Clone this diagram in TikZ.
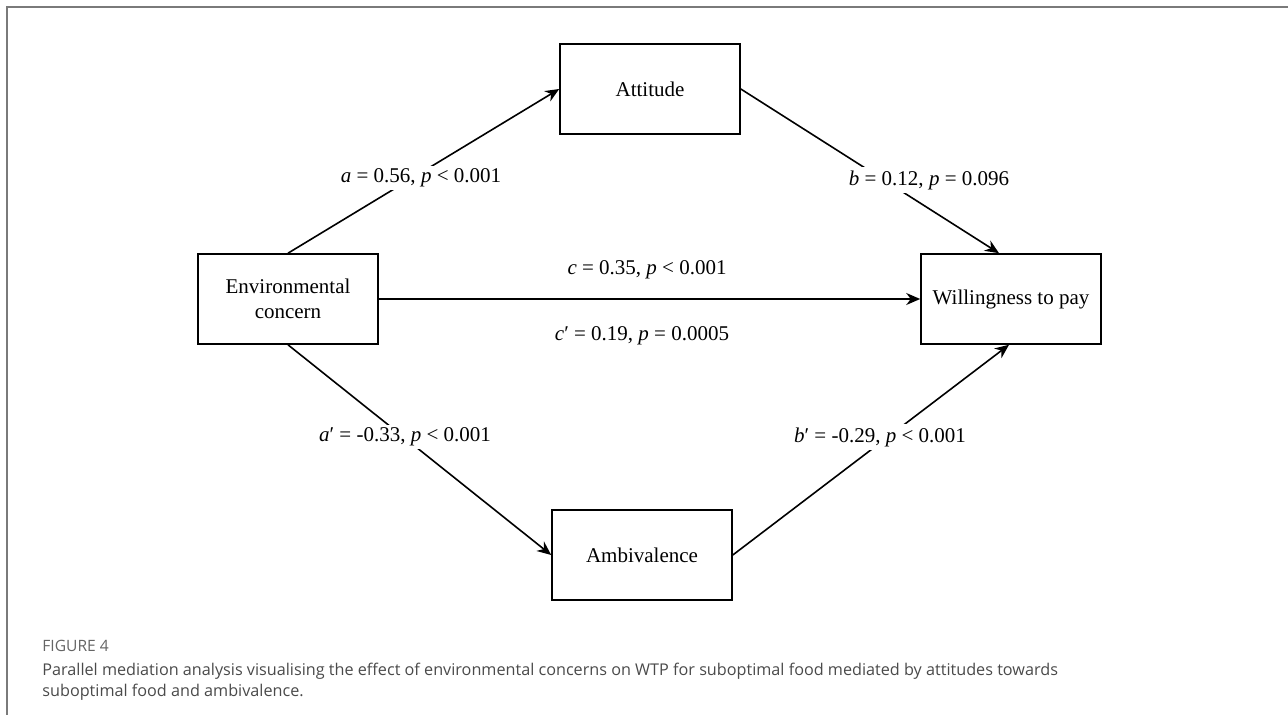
\documentclass[tikz,border=0pt]{standalone}
\usepackage{fontspec}
\setmainfont{Liberation Serif}
\newfontfamily\capfont{Open Sans}
\usetikzlibrary{arrows.meta}
\definecolor{framegray}{HTML}{7A7A7A}
\definecolor{capgray}{HTML}{4A4A4A}
\tikzset{
  var/.style={draw,line width=0.8pt,minimum width=90pt,minimum height=45pt,align=center,inner sep=0pt,font=\fontsize{10.5}{12.5}\selectfont},
  coef/.style={fill=white,inner sep=1.5pt,font=\fontsize{10.5}{12.5}\selectfont},
}
\begin{document}
\begin{tikzpicture}[x=0.5pt,y=-0.5pt]
  \useasboundingbox (0,0) rectangle (1288,715);
  \draw[framegray,line width=1pt] (7,715)--(7,7)--(1288,7);
  \node[var] (env) at (288,299) {Environmental\\concern};
  \node[var] (att) at (650,89) {Attitude};
  \node[var] (amb) at (642,555) {Ambivalence};
  \node[var] (wtp) at (1011,299) {Willingness to pay};
  \draw[->,>={Stealth[length=7pt,width=6pt]},line width=0.8pt] (env.north) -- (att.west);
  \draw[->,>={Stealth[length=7pt,width=6pt]},line width=0.8pt] (att.east) -- ([xshift=-6pt]wtp.north);
  \draw[->,>={Stealth[length=7pt,width=6pt]},line width=0.8pt] (env.east) -- (wtp.west);
  \draw[->,>={Stealth[length=7pt,width=6pt]},line width=0.8pt] (env.south) -- (amb.west);
  \draw[->,>={Stealth[length=7pt,width=6pt]},line width=0.8pt] (amb.east) -- ([xshift=-1pt]wtp.south);
  \node[coef] (la) at (421,178) {\textit{a} = 0.56, \textit{p} < 0.001};
  \node[coef] (lb) at (929,180) {\textit{b} = 0.12, \textit{p} = 0.096};
  \node[coef] (lc) at (647,270) {\textit{c} = 0.35, \textit{p} < 0.001};
  \node[coef] (lcc) at (642,336) {\textit{c}′ = 0.19, \textit{p} = 0.0005};
  \node[coef] (laa) at (405,437) {\textit{a}′ = -0.33, \textit{p} < 0.001};
  \node[coef] (lbb) at (880,437) {\textit{b}′ = -0.29, \textit{p} < 0.001};
  \node[anchor=north west,inner sep=0pt,text=capgray!85,font=\capfont\fontsize{7.8}{9}\selectfont] (fig) at (42,640) {FIGURE 4};
  \node[anchor=north west,inner sep=0pt,align=left,text=capgray,font=\capfont\fontsize{8.1}{10.5}\selectfont] (cap) at (42,663) {Parallel mediation analysis visualising the effect of environmental concerns on WTP for suboptimal food mediated by attitudes towards\\suboptimal food and ambivalence.};
\end{tikzpicture}
\end{document}
